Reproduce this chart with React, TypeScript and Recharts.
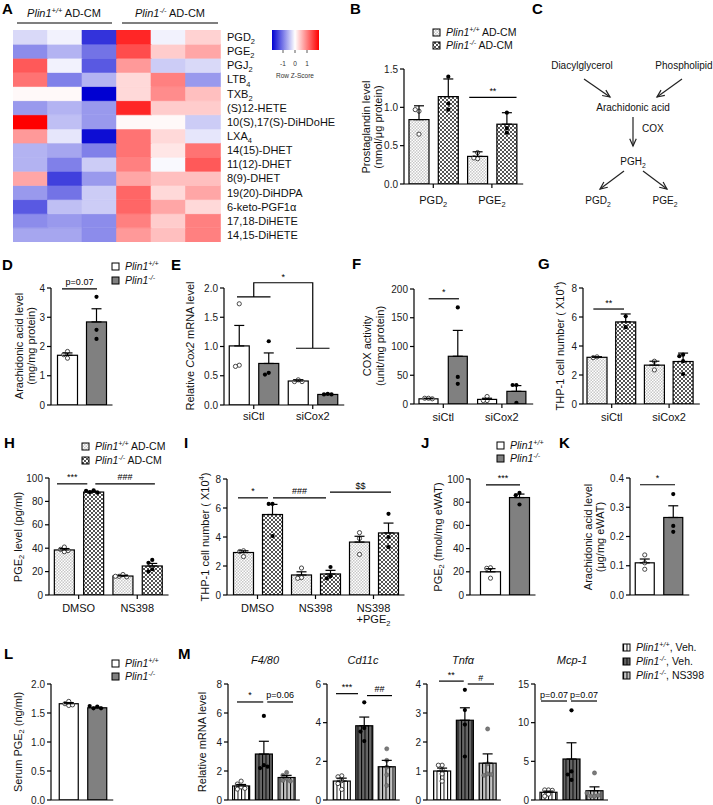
import React from 'react'
import { BarChart, Bar, XAxis, YAxis, Cell, ErrorBar, ReferenceLine } from 'recharts'

const FONT = '"Liberation Sans", Arial, Helvetica, sans-serif'

// ---------- A: lipid heatmap (row z-scores; 3x Plin1+/+, 3x Plin1-/-)
const lipids = [
  'PGD_2', 'PGE_2', 'PGJ_2', 'LTB_4', 'TXB_2', '(S)12-HETE', '10(S),17(S)-DiHDoHE', 'LXA_4',
  '14(15)-DHET', '11(12)-DHET', '8(9)-DHET', '19(20)-DiHDPA', '6-keto-PGF1α', '17,18-DiHETE', '14,15-DiHETE',
]
const samples = ['WT1', 'WT2', 'WT3', 'KO1', 'KO2', 'KO3']
const zRows = [
  [-0.3, -0.1, -1.6, 1.7, -0.1, 0.35],
  [-0.9, -0.6, -1.1, 1.4, 0.4, 0.7],
  [1.3, -0.1, -1.3, 0.8, -0.4, -0.3],
  [1.1, -1.0, -0.6, 0.3, 1.0, -0.8],
  [0.05, 0.05, -2.0, 0.3, 0.9, 0.5],
  [-0.8, -0.6, -0.8, 1.7, 0.4, 0.4],
  [2.0, -0.5, -0.8, 0.05, 0.05, -0.4],
  [0.8, -0.2, -1.9, 1.1, 0.3, -0.2],
  [-0.6, -0.7, -1.0, 1.1, 0.2, 1.1],
  [-0.6, -1.0, -0.4, 1.0, -0.05, 1.3],
  [0.7, -1.5, -0.8, 0.7, 0.5, 0.5],
  [-0.8, -1.1, -0.4, 1.2, 0.3, 0.7],
  [-1.3, -0.5, -0.4, 1.2, 0.7, 0.3],
  [-0.9, -0.8, -0.9, 1.0, 0.4, 1.0],
  [-0.7, -0.7, -0.9, 0.8, 0.5, 1.0],
]

// ---------- bar panels: means, SEM, individual points
const wtKo = ['WT', 'KO']
const bGroups = ['PGD2', 'PGE2']
const bMean = [0.84, 1.14, 0.36, 0.78]
const bSem = [0.18, 0.23, 0.06, 0.15]
const bDots = [[0.95, 0.97, 0.65], [1.4, 1.05, 0.97], [0.41, 0.33, 0.34], [0.93, 0.73, 0.67]]

const dGroups = ['AA']
const dMean = [1.7, 2.84]
const dSem = [0.08, 0.45]
const dDots = [[1.83, 1.72, 1.6], [3.7, 2.57, 2.26]]

const siGroups = ['siCtl', 'siCox2']
const eMean = [1.01, 0.71, 0.41, 0.18]
const eSem = [0.35, 0.18, 0.02, 0.01]
const eDots = [[1.73, 0.68, 0.66], [1.09, 0.55, 0.52], [0.43, 0.4, 0.4], [0.19, 0.18, 0.18]]

const fMean = [9, 83, 8, 22]
const fSem = [1, 45, 2, 10]
const fDots = [[10, 10, 9], [168, 47, 35], [13, 6, 6], [33, 33, 2]]

const gMean = [3.22, 5.66, 2.68, 2.93]
const gSem = [0.04, 0.55, 0.27, 0.58]
const gDots = [[3.25, 3.2], [6.05, 5.3], [2.95, 2.35], [3.4, 3.3, 2.95, 2.07]]

const drugGroups = ['DMSO', 'NS398']
const hMean = [38.5, 88, 16.2, 24.8]
const hSem = [1.2, 0.7, 0.6, 2.2]
const hDots = [[41, 39, 37, 38], [89.5, 88, 87.5, 89], [17.5, 16, 15.5, 16], [30, 27.5, 22, 20]]

const iGroups = ['DMSO', 'NS398', 'NS398+PGE2']
const iMean = [2.93, 5.55, 1.38, 1.45, 3.65, 4.28]
const iSem = [0.12, 0.7, 0.22, 0.25, 0.4, 0.68]
const iDots = [[3.05, 3.0, 2.65], [6.28, 6.28, 4.07], [1.86, 1.2, 1.15], [1.93, 1.3, 1.15], [4.3, 3.9, 2.8], [5.6, 4.0, 3.3]]

const jMean = [20, 84]
const jSem = [2.7, 3]
const jDots = [[23.5, 23, 14.5], [88, 86, 78]]

const kMean = [0.11, 0.265]
const kSem = [0.013, 0.04]
const kDots = [[0.137, 0.11, 0.088], [0.345, 0.236, 0.216]]

const lMean = [1.66, 1.59]
const lSem = [0.02, 0.01]
const lDots = [[1.7, 1.66, 1.63, 1.64], [1.61, 1.58, 1.58, 1.62]]

const mSeries = ['WT', 'KO', 'NS']
const mGenes = ['F4/80', 'Cd11c', 'Tnfα', 'Mcp-1']
const m1Mean = [0.97, 3.17, 1.55]
const m1Sem = [0.1, 0.88, 0.15]
const m1Dots = [[1.3, 1.1, 0.9, 0.75, 0.8], [5.8, 2.4, 2.2, 2.3], [1.9, 1.7, 1.5, 1.35, 1.3]]
const m2Mean = [0.98, 3.84, 1.72]
const m2Sem = [0.15, 0.45, 0.33]
const m2Dots = [[1.25, 1.2, 1.0, 0.85, 0.55], [5.05, 3.72, 3.54, 3.05], [2.65, 2.05, 1.7, 1.3, 0.75]]
const m3Mean = [1.0, 2.75, 1.27]
const m3Sem = [0.1, 0.43, 0.32]
const m3Dots = [[1.2, 1.2, 1.05, 0.9, 0.65], [3.8, 3.1, 2.6, 1.5], [2.45, 1.25, 0.9, 0.85, 0.88]]
const m4Mean = [1.0, 5.3, 1.2]
const m4Sem = [0.15, 2.1, 0.5]
const m4Dots = [[1.3, 1.3, 1.25, 0.75, 0.5], [11.6, 3.7, 3.3, 2.6], [3.5, 0.5, 0.5, 0.6, 0.9]]

// ---------- helpers
type Part = { text: string; italic: boolean; kind: 'n' | 'sub' | 'sup' }

// "~" toggles italic, "_x" / "_{..}" subscript, "^{..}" superscript
function parse(s: string): Part[] {
  const out: Part[] = []
  let italic = false
  let buf = ''
  let i = 0
  const flush = () => {
    if (buf) out.push({ text: buf, italic, kind: 'n' })
    buf = ''
  }
  while (i < s.length) {
    const c = s[i]
    if (c === '~') {
      flush()
      italic = !italic
      i++
    } else if (c === '_' || c === '^') {
      flush()
      let t = ''
      if (s[i + 1] === '{') {
        const j = s.indexOf('}', i + 2)
        t = s.slice(i + 2, j)
        i = j + 1
      } else {
        t = s[i + 1]
        i += 2
      }
      out.push({ text: t, italic, kind: c === '_' ? 'sub' : 'sup' })
    } else {
      buf += c
      i++
    }
  }
  flush()
  return out
}

function RT({ x, y, s, size = 11, anchor = 'start', weight, rotate, fill = '#111', central }: any) {
  const parts = parse(s)
  let shift = 0
  return (
    <text
      x={x}
      y={y}
      fontSize={size}
      fontFamily={FONT}
      fontWeight={weight}
      fill={fill}
      textAnchor={anchor}
      dominantBaseline={central ? 'central' : undefined}
      transform={rotate ? `rotate(-90 ${x} ${y})` : undefined}
    >
      {parts.map((p, i) => {
        const target = p.kind === 'sub' ? size * 0.28 : p.kind === 'sup' ? -size * 0.38 : 0
        const dy = target - shift
        shift = target
        return (
          <tspan key={i} dy={dy} fontSize={p.kind === 'n' ? undefined : size * 0.68} fontStyle={p.italic ? 'italic' : undefined}>
            {p.text}
          </tspan>
        )
      })}
    </text>
  )
}

function zColor(z: number) {
  const t = Math.min(1, Math.abs(z) / 2)
  if (z < 0) {
    const v = Math.round(255 * (1 - t))
    return `rgb(${v},${v},${Math.round(255 - 45 * t)})`
  }
  const v = Math.round(255 * (1 - t))
  return `rgb(255,${v},${v})`
}

const dotStyle: any = {
  open: { fill: '#fff', stroke: '#333', strokeWidth: 0.9 },
  black: { fill: '#000' },
  grey: { fill: '#7a7a7a', stroke: '#555', strokeWidth: 0.5 },
}

function spread(ys: number[], r: number) {
  const placed: { x: number; y: number }[] = []
  return ys.map((y) => {
    for (const m of [0, -1, 1, -2, 2, -3, 3]) {
      const x = m * r * 1.8
      if (placed.every((p) => Math.hypot(p.x - x, p.y - y) >= r * 1.8)) {
        placed.push({ x, y })
        return x
      }
    }
    placed.push({ x: 0, y })
    return 0
  })
}

function barShape(p: any) {
  const { x, y, width, height, payload } = p
  const base = y + height
  const ppu = payload.v ? height / payload.v : 0
  const r = 2.1
  const ys = payload.dots.map((d: number) => base - d * ppu)
  const xs = spread(ys, r)
  const cx = x + width / 2
  return (
    <g>
      <rect x={x} y={y} width={width} height={height} fill={payload.fill} stroke="#000" strokeWidth={1.2} />
      {ys.map((yy: number, i: number) => (
        <circle key={i} cx={cx + xs[i]} cy={yy} r={r} {...dotStyle[payload.dot]} />
      ))}
    </g>
  )
}

// significance line between two bars; dx nudges the ends like the original figure
function sigShape(s: any) {
  return (p: any) => {
    const x1 = p.x1 + (s.dx ? s.dx[0] : 0)
    const x2 = p.x2 + (s.dx ? s.dx[1] : 0)
    return (
      <g>
        <line x1={x1} x2={x2} y1={p.y1} y2={p.y2} stroke="#000" strokeWidth={1.2} />
        <text x={(x1 + x2) / 2} y={p.y1 - 3.5} fontSize={9} textAnchor="middle" fontFamily={FONT} fill="#000">
          {s.t}
        </text>
      </g>
    )
  }
}

function makeRows(groups: string[], series: string[], mean: number[], sem: number[], dots: number[][], fills: string[], kinds: string[]) {
  const out: any[] = []
  groups.forEach((g, gi) =>
    series.forEach((s, si) => {
      const i = gi * series.length + si
      out.push({ k: `${g}|${s}`, v: mean[i], err: [0, sem[i]], dots: dots[i], fill: fills[si], dot: kinds[si] })
    })
  )
  return out
}

function BarPanel({ cfg }: { cfg: any }) {
  const { axisX, top, bottom, c1, step, bw, rows, domain, ticks, fmt, groups = [], labelDy = 17, sigs = [], extra } = cfg
  const n = rows.length
  const h = bottom - top
  const padL = Math.max(0, c1 - step / 2 - axisX)
  const padR = Math.max(2, bw / 2 + 4 - step / 2)
  const w = padL + n * step + padR
  const LM = 36
  const TM = 24
  const RM = 8
  const BM = 36
  const gsize = groups.length ? n / groups.length : n
  return (
    <div style={{ position: 'absolute', left: axisX - LM, top: top - TM }}>
      <BarChart width={LM + w + RM} height={TM + h + BM} data={rows} margin={{ top: TM, right: RM, left: 0, bottom: 0 }} barSize={bw}>
        <XAxis
          dataKey="k"
          height={BM}
          interval={0}
          padding={{ left: padL, right: padR }}
          tickLine={false}
          tickSize={0}
          tickMargin={0}
          axisLine={{ stroke: '#000', strokeWidth: 1.2 }}
          tick={(p: any) => {
            const gi = groups.findIndex((_: any, j: number) => j * gsize === p.index)
            if (gi < 0) return <g />
            const cx = p.x + ((gsize - 1) / 2) * step
            const lines: string[] = groups[gi]
            return (
              <g>
                <line x1={cx} x2={cx} y1={p.y} y2={p.y + 4} stroke="#000" strokeWidth={1.2} />
                {lines.map((ln, li) => (
                  <RT key={li} x={cx} y={p.y + labelDy + li * 11} s={ln} size={11} anchor="middle" />
                ))}
              </g>
            )
          }}
        />
        <YAxis
          width={LM}
          domain={domain}
          ticks={ticks}
          interval={0}
          allowDataOverflow
          tickFormatter={fmt}
          tickSize={4}
          tickMargin={2}
          tick={{ fontSize: 10, fill: '#1a1a1a', fontFamily: FONT }}
          axisLine={{ stroke: '#000', strokeWidth: 1.2 }}
          tickLine={{ stroke: '#000', strokeWidth: 1.2 }}
        />
        <Bar dataKey="v" isAnimationActive={false} shape={barShape}>
          <ErrorBar dataKey="err" width={5} stroke="#000" strokeWidth={1.2} direction="y" />
        </Bar>
        {sigs.map((s: any, i: number) => (
          <ReferenceLine
            key={i}
            segment={[{ x: s.a, y: s.y }, { x: s.b, y: s.y }]}
            ifOverflow="visible"
            shape={sigShape(s)}
          />
        ))}
        {extra}
      </BarChart>
    </div>
  )
}

// bracket for panel E: siCtl pair vs siCox2 pair
const eBracket = { left: 1.85, right: 0.97, top: 2.09 }
function eBracketShape(p: any) {
  const { x1, y1, x2, y2 } = p
  const band = (x2 - x1) / 3
  const lx = x1 + band / 2
  const rx = x2 - band / 2
  const ppu = (y2 - y1) / (eBracket.left - eBracket.right)
  const yt = y1 - (eBracket.top - eBracket.left) * ppu
  return (
    <g>
      <path
        d={`M${x1 - 2},${y1}H${x1 + band + 2}M${lx},${y1}V${yt}H${rx}V${y2}M${x2 - band - 2},${y2}H${x2 + 2}`}
        stroke="#000"
        strokeWidth={1.2}
        fill="none"
      />
      <text x={(lx + rx) / 2} y={yt - 3} fontSize={9} textAnchor="middle" fontFamily={FONT}>
        *
      </text>
    </g>
  )
}

function Heatmap() {
  const data = samples.map((s) => {
    const row: any = { s }
    lipids.forEach((_, i) => (row['r' + i] = 1))
    return row
  })
  const order = lipids.map((_, i) => lipids.length - 1 - i)
  return (
    <div style={{ position: 'absolute', left: 13, top: 30 }}>
      <BarChart width={207 + 125} height={212} data={data} margin={{ top: 0, right: 0, left: 0, bottom: 0 }} barCategoryGap={0} barGap={0}>
        <XAxis dataKey="s" hide />
        <YAxis
          orientation="right"
          width={125}
          domain={[0, lipids.length]}
          ticks={lipids.map((_, L) => lipids.length - 0.5 - L)}
          interval={0}
          allowDataOverflow
          axisLine={false}
          tickLine={false}
          tickSize={0}
          tickMargin={0}
          tick={(p: any) => {
            const L = Math.round(lipids.length - 0.5 - p.payload.value)
            return <RT x={p.x + 7} y={p.y + 4} s={lipids[L]} size={11} />
          }}
        />
        {order.map((L) => (
          <Bar key={L} dataKey={'r' + L} stackId="h" isAnimationActive={false}>
            {samples.map((_, j) => (
              <Cell key={j} fill={zColor(zRows[L][j])} stroke={zColor(zRows[L][j])} strokeWidth={0.6} />
            ))}
          </Bar>
        ))}
      </BarChart>
    </div>
  )
}

function Arrow({ x1, y1, x2, y2 }: any) {
  const a = Math.atan2(y2 - y1, x2 - x1)
  const L = 8
  const sp = 0.42
  const pts = `${x2 - L * Math.cos(a - sp)},${y2 - L * Math.sin(a - sp)} ${x2},${y2} ${x2 - L * Math.cos(a + sp)},${y2 - L * Math.sin(a + sp)}`
  return (
    <g stroke="#222" strokeWidth={1.2} fill="none">
      <line x1={x1} y1={y1} x2={x2} y2={y2} />
      <polyline points={pts} />
    </g>
  )
}

function LegendBox({ x, y, fill, s }: any) {
  return (
    <g>
      <rect x={x} y={y} width={7} height={7} fill={fill} stroke="#000" strokeWidth={1} />
      <RT x={x + 13} y={y + 7} s={s} size={10.5} />
    </g>
  )
}

const WT = '~Plin1^{+/+}~'
const KO = '~Plin1^{-/-}~'

function Overlay() {
  const letters: [string, number, number][] = [
    ['A', 2, 14], ['B', 350, 14], ['C', 532, 14], ['D', 2, 270], ['E', 171, 270], ['F', 352, 269], ['G', 538, 269],
    ['H', 4, 448], ['I', 184, 448], ['J', 421, 448], ['K', 559, 448], ['L', 4, 659], ['M', 178, 659],
  ]
  const yTitles: [number, number, string][] = [
    [366, 127, 'Prostaglandin level'], [378, 127, '(nmol/μg protein)'],
    [19, 346, 'Arachidonic acid level'], [31, 346, '(mg/mg protein)'],
    [190, 346, 'Relative ~Cox2~ mRNA level'],
    [367, 346, 'COX activity'], [380, 346, '(unit/mg protein)'],
    [560, 346, 'THP-1 cell number ( X10^{4})'],
    [18, 537, 'PGE_2 level (pg/ml)'],
    [205, 537, 'THP-1 cell number ( X10^{4})'],
    [438, 537, 'PGE_2 (fmol/mg eWAT)'],
    [588, 537, 'Arachidonic acid level'], [600, 537, '(μg/mg eWAT)'],
    [18, 742, 'Serum PGE_2 (ng/ml)'],
    [202, 742, 'Relative mRNA level'],
  ]
  const geneX = [265, 363, 463, 572]
  return (
    <svg width={713} height={805} style={{ position: 'absolute', left: 0, top: 0 }}>
      {letters.map(([t, x, y]) => (
        <text key={t} x={x} y={y} fontSize={15} fontWeight="bold" fontFamily={FONT} fill="#000">
          {t}
        </text>
      ))}
      {/* A header */}
      <RT x={64} y={17} s={`${WT} AD-CM`} anchor="middle" />
      <line x1={17} x2={112} y1={23} y2={23} stroke="#000" strokeWidth={1.2} />
      <RT x={170} y={17} s={`${KO} AD-CM`} anchor="middle" />
      <line x1={122} x2={218} y1={23} y2={23} stroke="#000" strokeWidth={1.2} />
      {/* colour key */}
      <rect x={272} y={30} width={47} height={20} fill="url(#zGrad)" />
      {[-1, 0, 1].map((v, i) => (
        <g key={v}>
          <line x1={283 + i * 12} x2={283 + i * 12} y1={50} y2={53} stroke="#333" strokeWidth={0.8} />
          <text x={283 + i * 12} y={66} fontSize={6.5} textAnchor="middle" fontFamily={FONT} fill="#333">
            {v}
          </text>
        </g>
      ))}
      <text x={295} y={78} fontSize={6.5} textAnchor="middle" fontFamily={FONT} fill="#333">
        Row Z-Score
      </text>
      {/* C pathway */}
      <RT x={582} y={69} s="Diacylglycerol" anchor="middle" size={10} />
      <RT x={684} y={69} s="Phospholipid" anchor="middle" size={10} />
      <Arrow x1={584} y1={79} x2={610} y2={97} />
      <Arrow x1={682} y1={79} x2={657} y2={97} />
      <RT x={633} y={111} s="Arachidonic acid" anchor="middle" size={10} />
      <Arrow x1={633} y1={117} x2={633} y2={146} />
      <RT x={642} y={132} s="COX" size={10} />
      <RT x={633} y={165} s="PGH_2" anchor="middle" size={10} />
      <Arrow x1={624} y1={171} x2={600} y2={189} />
      <Arrow x1={643} y1={171} x2={667} y2={189} />
      <RT x={598} y={204} s="PGD_2" anchor="middle" size={10} />
      <RT x={665} y={204} s="PGE_2" anchor="middle" size={10} />
      {/* legends */}
      <LegendBox x={433} y={29} fill="url(#pWt)" s={`${WT} AD-CM`} />
      <LegendBox x={433} y={42} fill="url(#pKo)" s={`${KO} AD-CM`} />
      <LegendBox x={112} y={263} fill="#fff" s={WT} />
      <LegendBox x={112} y={277} fill="#808080" s={KO} />
      <LegendBox x={82} y={443} fill="url(#pWt)" s={`${WT} AD-CM`} />
      <LegendBox x={82} y={457} fill="url(#pKo)" s={`${KO} AD-CM`} />
      <LegendBox x={497} y={442} fill="#fff" s={WT} />
      <LegendBox x={497} y={455} fill="#808080" s={KO} />
      <LegendBox x={112} y={660} fill="#fff" s={WT} />
      <LegendBox x={112} y={673} fill="#808080" s={KO} />
      <LegendBox x={623} y={644} fill="url(#sWt)" s={`${WT}, Veh.`} />
      <LegendBox x={623} y={658} fill="url(#sKo)" s={`${KO}, Veh.`} />
      <LegendBox x={623} y={672} fill="url(#sNs)" s={`${KO}, NS398`} />
      {yTitles.map(([x, y, s], i) => (
        <RT key={i} x={x} y={y} s={s} size={11} anchor="middle" rotate central />
      ))}
      {mGenes.map((g, i) => (
        <RT key={g} x={geneX[i]} y={664} s={`~${g}~`} size={11} anchor="middle" />
      ))}
    </svg>
  )
}

function Defs() {
  return (
    <svg width={0} height={0} style={{ position: 'absolute' }}>
      <defs>
        <pattern id="pWt" width={3} height={3} patternUnits="userSpaceOnUse">
          <rect width={3} height={3} fill="#fff" />
          <rect width={1.5} height={1.5} fill="#c8c8c8" />
          <rect x={1.5} y={1.5} width={1.5} height={1.5} fill="#c8c8c8" />
        </pattern>
        <pattern id="pKo" width={4} height={4} patternUnits="userSpaceOnUse">
          <rect width={4} height={4} fill="#fff" />
          <rect width={2} height={2} fill="#555" />
          <rect x={2} y={2} width={2} height={2} fill="#555" />
        </pattern>
        <pattern id="sWt" width={3.5} height={4} patternUnits="userSpaceOnUse">
          <rect width={3.5} height={4} fill="#fff" />
          <rect width={1} height={4} fill="#000" />
        </pattern>
        <pattern id="sKo" width={3.5} height={4} patternUnits="userSpaceOnUse">
          <rect width={3.5} height={4} fill="#666" />
          <rect width={1} height={4} fill="#000" />
        </pattern>
        <pattern id="sNs" width={3.5} height={4} patternUnits="userSpaceOnUse">
          <rect width={3.5} height={4} fill="#c4c4c4" />
          <rect width={1} height={4} fill="#000" />
        </pattern>
        <linearGradient id="zGrad" x1="0" x2="1" y1="0" y2="0">
          <stop offset="0%" stopColor="rgb(0,0,210)" />
          <stop offset="49%" stopColor="#fff" />
          <stop offset="100%" stopColor="rgb(255,0,0)" />
        </linearGradient>
      </defs>
    </svg>
  )
}

const solid = ['#fff', '#808080']
const checker = ['url(#pWt)', 'url(#pKo)']
const stripes = ['url(#sWt)', 'url(#sKo)', 'url(#sNs)']
const wkDots = ['open', 'black']
const mDots = ['open', 'black', 'grey']
const dec1 = (v: number) => v.toFixed(1)

const panels: any[] = [
  {
    axisX: 404, top: 69, bottom: 184, c1: 418.5, step: 29.3, bw: 20, domain: [0, 1.5], ticks: [0, 0.5, 1, 1.5], fmt: dec1,
    rows: makeRows(bGroups, wtKo, bMean, bSem, bDots, checker, wkDots), groups: [['PGD_2'], ['PGE_2']], labelDy: 20,
    sigs: [{ a: 'PGE2|WT', b: 'PGE2|KO', y: 1.13, t: '**', dx: [-8, 10] }],
  },
  {
    axisX: 51, top: 288, bottom: 405, c1: 67, step: 29, bw: 20, domain: [0, 4], ticks: [0, 1, 2, 3, 4],
    rows: makeRows(dGroups, wtKo, dMean, dSem, dDots, solid, wkDots),
    sigs: [{ a: 'AA|WT', b: 'AA|KO', y: 3.97, t: 'p=0.07', dx: [-5, 1] }],
  },
  {
    axisX: 224, top: 288, bottom: 405, c1: 239, step: 29.5, bw: 20, domain: [0, 2], ticks: [0, 0.5, 1, 1.5, 2], fmt: dec1,
    rows: makeRows(siGroups, wtKo, eMean, eSem, eDots, solid, wkDots), groups: [['siCtl'], ['siCox2']], labelDy: 15,
    extra: (
      <ReferenceLine
        segment={[{ x: 'siCtl|WT', y: eBracket.left }, { x: 'siCox2|KO', y: eBracket.right }]}
        ifOverflow="visible"
        shape={eBracketShape}
      />
    ),
  },
  {
    axisX: 414, top: 289, bottom: 404, c1: 428.5, step: 29.3, bw: 19, domain: [0, 200], ticks: [0, 50, 100, 150, 200],
    rows: makeRows(siGroups, wtKo, fMean, fSem, fDots, solid, wkDots), groups: [['siCtl'], ['siCox2']],
    sigs: [{ a: 'siCtl|WT', b: 'siCtl|KO', y: 183, t: '*', dx: [0, 1] }],
  },
  {
    axisX: 583, top: 288, bottom: 404, c1: 597, step: 28.7, bw: 20, domain: [0, 8], ticks: [0, 2, 4, 6, 8],
    rows: makeRows(siGroups, wtKo, gMean, gSem, gDots, checker, wkDots), groups: [['siCtl'], ['siCox2']],
    sigs: [{ a: 'siCtl|WT', b: 'siCtl|KO', y: 6.55, t: '**', dx: [-4, -2] }],
  },
  {
    axisX: 49, top: 478, bottom: 595, c1: 64, step: 29.3, bw: 20, domain: [0, 100], ticks: [0, 20, 40, 60, 80, 100],
    rows: makeRows(drugGroups, wtKo, hMean, hSem, hDots, checker, wkDots), groups: [['DMSO'], ['NS398']],
    sigs: [
      { a: 'DMSO|WT', b: 'DMSO|KO', y: 95, t: '***', dx: [-7, -6] },
      { a: 'DMSO|KO', b: 'NS398|KO', y: 95, t: '###', dx: [2, 3] },
    ],
  },
  {
    axisX: 227, top: 479, bottom: 595, c1: 243, step: 29, bw: 20, domain: [0, 8], ticks: [0, 2, 4, 6, 8],
    rows: makeRows(iGroups, wtKo, iMean, iSem, iDots, checker, wkDots), groups: [['DMSO'], ['NS398'], ['NS398', '+PGE_2']],
    sigs: [
      { a: 'DMSO|WT', b: 'DMSO|KO', y: 6.7, t: '*', dx: [-5, -4] },
      { a: 'DMSO|KO', b: 'NS398|KO', y: 6.7, t: '###', dx: [1, -4] },
      { a: 'NS398|KO', b: 'NS398+PGE2|KO', y: 7.1, t: '$$', dx: [0, 3] },
    ],
  },
  {
    axisX: 470, top: 479, bottom: 595, c1: 490, step: 29, bw: 20, domain: [0, 100], ticks: [0, 20, 40, 60, 80, 100],
    rows: makeRows(['J'], wtKo, jMean, jSem, jDots, solid, wkDots),
    sigs: [{ a: 'J|WT', b: 'J|KO', y: 95, t: '***', dx: [-4, 1] }],
  },
  {
    axisX: 630, top: 478, bottom: 595, c1: 644.5, step: 28.5, bw: 19, domain: [0, 0.4], ticks: [0, 0.1, 0.2, 0.3, 0.4], fmt: dec1,
    rows: makeRows(['K'], wtKo, kMean, kSem, kDots, solid, wkDots),
    sigs: [{ a: 'K|WT', b: 'K|KO', y: 0.377, t: '*', dx: [-4.5, 2] }],
  },
  {
    axisX: 51, top: 684, bottom: 800, c1: 68.5, step: 28.5, bw: 19, domain: [0, 2], ticks: [0, 0.5, 1, 1.5, 2], fmt: dec1,
    rows: makeRows(['L'], wtKo, lMean, lSem, lDots, solid, wkDots),
  },
  {
    axisX: 228, top: 684, bottom: 800, c1: 241, step: 22.75, bw: 17, domain: [0, 8], ticks: [0, 2, 4, 6, 8],
    rows: makeRows(['F480'], mSeries, m1Mean, m1Sem, m1Dots, stripes, mDots),
    sigs: [
      { a: 'F480|WT', b: 'F480|KO', y: 6.76, t: '*', dx: [-4, -0.5] },
      { a: 'F480|KO', b: 'F480|NS', y: 6.76, t: 'p=0.06', dx: [3.5, 6.5] },
    ],
  },
  {
    axisX: 327, top: 684, bottom: 800, c1: 341.5, step: 22.5, bw: 17, domain: [0, 6], ticks: [0, 2, 4, 6],
    rows: makeRows(['Cd11c'], mSeries, m2Mean, m2Sem, m2Dots, stripes, mDots),
    sigs: [
      { a: 'Cd11c|WT', b: 'Cd11c|KO', y: 5.5, t: '***', dx: [-5.5, -6] },
      { a: 'Cd11c|KO', b: 'Cd11c|NS', y: 5.4, t: '##', dx: [3, 5.5] },
    ],
  },
  {
    axisX: 427, top: 684, bottom: 800, c1: 442, step: 22.75, bw: 17, domain: [0, 4], ticks: [0, 1, 2, 3, 4],
    rows: makeRows(['Tnf'], mSeries, m3Mean, m3Sem, m3Dots, stripes, mDots),
    sigs: [
      { a: 'Tnf|WT', b: 'Tnf|KO', y: 4.1, t: '**', dx: [-3, -1] },
      { a: 'Tnf|KO', b: 'Tnf|NS', y: 4.0, t: '#', dx: [3, 6.5] },
    ],
  },
  {
    axisX: 535, top: 684, bottom: 800, c1: 548.5, step: 23, bw: 17, domain: [0, 15], ticks: [0, 5, 10, 15],
    rows: makeRows(['Mcp1'], mSeries, m4Mean, m4Sem, m4Dots, stripes, mDots),
    sigs: [
      { a: 'Mcp1|WT', b: 'Mcp1|KO', y: 12.8, t: 'p=0.07', dx: [-7.5, -4.5] },
      { a: 'Mcp1|KO', b: 'Mcp1|NS', y: 12.8, t: 'p=0.07', dx: [-0.5, 2.5] },
    ],
  },
]

export default function App() {
  return (
    <div style={{ position: 'absolute', left: 0, top: 0, width: 713, height: 805, background: '#fff', fontFamily: FONT }}>
      <Defs />
      <Overlay />
      <Heatmap />
      {panels.map((cfg, i) => (
        <BarPanel key={i} cfg={cfg} />
      ))}
    </div>
  )
}
